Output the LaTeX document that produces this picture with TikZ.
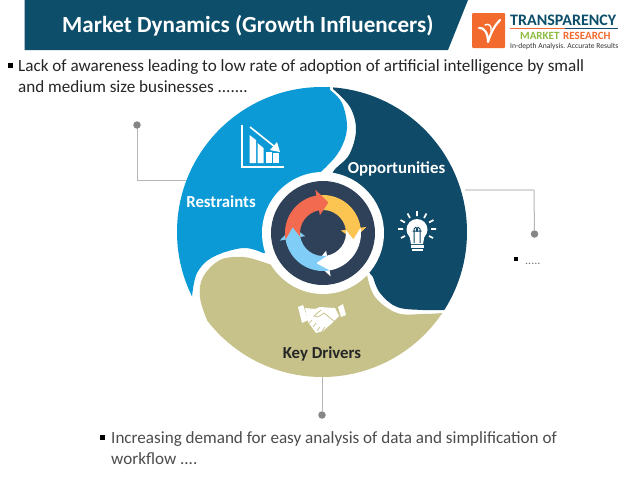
\documentclass[tikz,border=0pt]{standalone}
\usepackage{fontspec}
\setmainfont{Carlito}
\definecolor{headteal}{HTML}{0D4F6B}
\definecolor{rblue}{HTML}{0B9AD6}
\definecolor{odark}{HTML}{0F4A68}
\definecolor{kkhaki}{HTML}{C7C28A}
\definecolor{hubdark}{HTML}{2F4159}
\definecolor{cgray}{HTML}{B5B5B5}
\definecolor{dotgray}{HTML}{868686}
\definecolor{logoorange}{HTML}{F26A2E}
\definecolor{logogreen}{HTML}{8DBB3F}
\definecolor{arred}{HTML}{F26B50}
\definecolor{aryellow}{HTML}{FCC552}
\definecolor{arblue}{HTML}{80CDF7}
\newcommand{\fsz}[2]{\fontsize{#1pt}{#2pt}\selectfont}
% colour, previous base angle, previous tip angle, base angle, tip angle
\newcommand{\arcarrow}[5]{%
  \fill[#1] (#2:38pt) arc[start angle=#2,end angle=#4,radius=38pt]
    -- (#4:44pt) -- (#5:31pt) -- (#4:18pt) -- (#4:23pt)
    arc[start angle=#4,end angle=#2,radius=23pt] -- (#3:31pt) -- cycle;}
\tikzset{
  title/.style={text=white,font=\fsz{23.1}{28}\bfseries,anchor=base west,inner sep=0},
  body/.style={text=black!85,font=\fsz{17.1}{20.5},anchor=base west,inner sep=0,align=left},
  seg/.style={text=white,font=\fsz{16.8}{18}\bfseries,inner sep=0},
  bullet/.style={fill=black,minimum size=5pt,inner sep=0,draw=none,rectangle},
  dotnode/.style={circle,fill=dotgray,minimum size=7.5pt,inner sep=0},
  conn/.style={draw=cgray,line width=1pt},
}
\begin{document}
\begin{tikzpicture}[x=1pt,y=-1pt]
\useasboundingbox (0,0) rectangle (622,477);
\fill[white] (0,0) rectangle (622,477);
% header
\fill[headteal] (24.5,0) -- (468,0) -- (448,50) -- (24.5,50) -- cycle;
\node[title] (head) at (62,32) {Market Dynamics (Growth Influencers)};
% logo
\fill[logoorange,rounded corners=1pt] (472,13) rectangle (505,48);
\draw[white,line width=2.2pt,line cap=round,line join=round] (479,28) .. controls (484,27) and (488,33) .. (488,42) .. controls (491,32) and (495,25) .. (500,20);
\draw[white,line width=1.4pt,line cap=round] (485,25) .. controls (489,23) and (492,26) .. (491,31);
\node[inner sep=0,anchor=base west,font=\fsz{16}{16}\bfseries,text=headteal] (lg1) at (510,25) {TRANSPARENCY};
\fill[logoorange] (510,28) rectangle (565,29);
\fill[headteal] (565,28) rectangle (618,29);
\node[inner sep=0,anchor=base west,font=\fsz{11}{11}\bfseries,text=logogreen] (lg2) at (520,39.5) {MARKET};
\node[inner sep=0,anchor=base west,font=\fsz{11}{11}\bfseries,text=logoorange] (lg3) at (563,39.5) {RESEARCH};
\node[inner sep=0,anchor=base west,font=\fsz{7.6}{8},text=black!80] (lg4) at (510,48) {In-depth Analysis. Accurate Results};
% top text
\node[bullet] (b1) at (10,65.5) {};
\node[body] (t1) at (18,92) {Lack of awareness leading to low rate of adoption of artificial intelligence by small\\and medium size businesses .......};
% connectors
\coordinate (lc1) at (137,180);
\coordinate (lc2) at (190,180);
\node[dotnode] (dl) at (137,125) {};
\draw[conn] (dl) -- (lc1) -- (lc2);
\coordinate (rc1) at (465,190);
\coordinate (rc2) at (534,190);
\node[dotnode] (dr) at (534.5,234) {};
\draw[conn,draw=black!15,line width=1.7pt] (rc1) -- (rc2);
\draw[conn] (rc2) -- (dr);
\coordinate (bc1) at (322,375);
\node[dotnode] (db) at (322,415) {};
\draw[conn] (bc1) -- (db);
% wheel segments
\begin{scope}
\clip (322,232) circle (145pt);
\fill[rblue] plot[smooth,tension=.6] coordinates {(330,90) (342,103) (347,128) (340,150) (325,168) (305,185)}
   -- (300,250) -- plot[smooth,tension=.6] coordinates {(263,253) (243,248) (213,257) (197,273) (192,297)}
   -- (150,300) -- (150,60) -- (330,60) -- cycle;
\fill[odark] plot[smooth,tension=.6] coordinates {(333,89) (350,107) (356,130) (349,155) (333,172) (330,190)}
   -- (350,250) -- plot[smooth,tension=.6] coordinates {(373,277) (380,293) (397,307) (423,310) (443,310)}
   -- (500,310) -- (500,60) -- (333,60) -- cycle;
\fill[kkhaki] plot[smooth,tension=.6] coordinates {(217,340) (207,320) (200,297) (203,277) (220,260) (243,257) (263,262) (285,270)}
   -- (355,260) -- plot[smooth,tension=.6] coordinates {(367,275) (375,297) (397,313) (423,314) (443,313)}
   -- (500,313) -- (500,400) -- (200,400) -- cycle;
\end{scope}
% hub
\fill[white] (323,233) circle (61pt);
\fill[hubdark] (323,233) circle (52pt);
\begin{scope}[shift={(323,233)}]
\arcarrow{aryellow}{100}{80}{8}{-12}
\arcarrow{white}{8}{-12}{-80}{-103}
\arcarrow{arblue}{280}{257}{190}{169}
\arcarrow{arred}{190}{169}{100}{80}
\end{scope}
% chart icon
\draw[white,line width=1.8pt] (241.7,125) -- (241.7,167.3) -- (284,167.3);
\fill[white] (249.5,135) -- (256,140) -- (256,163) -- (249.5,163) -- cycle;
\fill[white] (257.5,143) -- (263.5,148) -- (263.5,163) -- (257.5,163) -- cycle;
\fill[white] (265.7,152) rectangle (271.7,163);
\fill[white] (273,153) rectangle (279,163);
\draw[white,line width=1.6pt] (250,127) -- (275,147);
\fill[white] (280,152) -- (270,150) -- (277,142) -- cycle;
% bulb icon
\begin{scope}[white]
\fill (417,229.5) circle (10.5pt);
\fill (409.5,236) -- (424.5,236) -- (423,244) -- (411,244) -- cycle;
\fill (410.5,245) rectangle (423.5,247.5);
\fill (411.5,248.5) rectangle (422.5,251);
\draw[odark,line width=1pt] (414,243) -- (414,229) arc[start angle=180,end angle=0,radius=1.7pt] -- (417.4,231) -- (412.5,231);
\draw[odark,line width=1pt] (420,243) -- (420,229) arc[start angle=0,end angle=180,radius=1.7pt] -- (416.6,231) -- (421.5,231);
\draw[line width=1.7pt] (417,211) -- (417,216) (407.5,213.5) -- (410,218) (426.5,213.5) -- (424,218) (400.5,220) -- (405,222.5) (433.5,220) -- (429,222.5) (398,229) -- (403,229) (436,229) -- (431,229) (401,238) -- (405,236) (433,238) -- (429,236);
\end{scope}
% handshake icon
\fill[white] (298,307) -- (303,305) -- (308,320) -- (302,323) -- cycle;
\fill[white] (338,307) -- (343,304) -- (346,315) -- (341,317) -- cycle;
\fill[white,line join=round] (305,308) -- (315,309) -- (320,307) -- (335,308) -- (339,316) -- (331,324) -- (323,331) -- (316,333) -- (308,322) -- cycle;
\draw[kkhaki,line width=.8pt] (321,310) -- (314,316) -- (318,317) -- (324,313) -- (335,322);
\draw[kkhaki,line width=.7pt] (309,323) -- (312,320) (313,327) -- (316,323) (317,331) -- (320,327) (322,331) -- (325,327);
% labels
\node[seg] (lo) at (396.5,169) {Opportunities};
\node[seg] (lr) at (221,202) {Restraints};
\node[seg,text=black!85] (lk) at (322,354) {Key Drivers};
% other bullets
\node[bullet,minimum size=4pt] (b2) at (515.5,259) {};
\node[body,font=\fsz{12}{12},text=black!55] (t2) at (525,264) {.....};
\node[bullet] (b3) at (102.7,437.5) {};
\node[body,text=black!70] (t3) at (111,464) {Increasing demand for easy analysis of data and simplification of\\workflow ....};
\end{tikzpicture}
\end{document}
